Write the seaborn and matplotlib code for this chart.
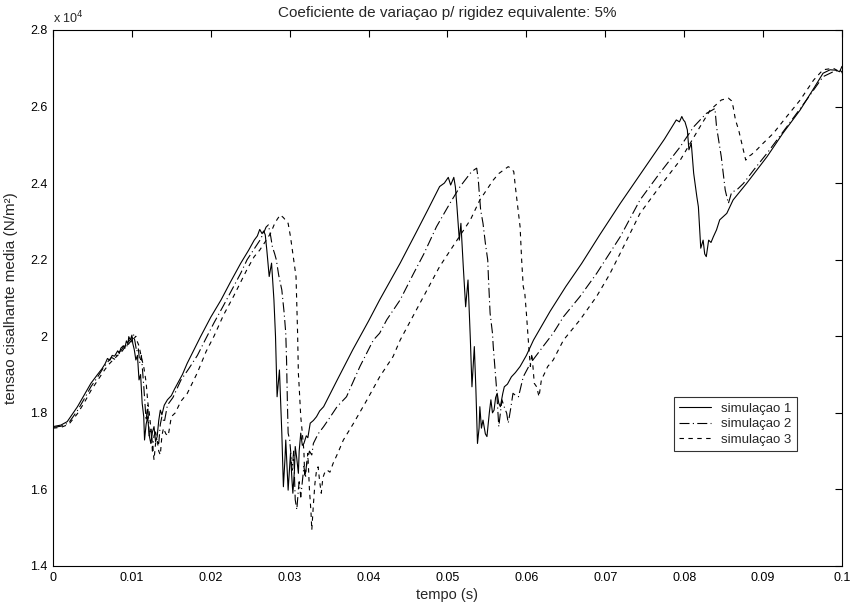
import matplotlib

matplotlib.use("Agg")
import matplotlib.pyplot as plt
import pandas as pd
import seaborn as sns
from matplotlib.ticker import FixedLocator, FuncFormatter


# tempo (s) and tensao (in units of 10^4 N/m^2)
t_sim1 = [
    0.0000, 0.0010, 0.0018, 0.0031, 0.0040, 0.0048, 0.0056, 0.0062, 0.0066, 0.0069,
    0.0072, 0.0075, 0.0078, 0.0082, 0.0084, 0.0086, 0.0089, 0.0091, 0.0093, 0.0095,
    0.0096, 0.0098, 0.0100, 0.0101, 0.0103, 0.0105, 0.0107, 0.0109, 0.0111, 0.0113,
    0.0115, 0.0116, 0.0118, 0.0120, 0.0122, 0.0124, 0.0126, 0.0128, 0.0130, 0.0132,
    0.0134, 0.0136, 0.0138, 0.0141, 0.0145, 0.0150, 0.0154, 0.0158, 0.0164, 0.0170,
    0.0178, 0.0187, 0.0200, 0.0213, 0.0225, 0.0238, 0.0248, 0.0255, 0.0259, 0.0262,
    0.0265, 0.0267, 0.0269, 0.0271, 0.0274, 0.0277, 0.0280, 0.0282, 0.0284, 0.0287,
    0.0290, 0.0292, 0.0294, 0.0295, 0.0297, 0.0298, 0.0300, 0.0301, 0.0303, 0.0304,
    0.0306, 0.0307, 0.0309, 0.0311, 0.0312, 0.0314, 0.0316, 0.0318, 0.0321, 0.0323,
    0.0326, 0.0330, 0.0334, 0.0338, 0.0343, 0.0360, 0.0380, 0.0400, 0.0414, 0.0440,
    0.0460, 0.0475, 0.0490, 0.0496, 0.0501, 0.0504, 0.0506, 0.0508, 0.0510, 0.0512,
    0.0515, 0.0517, 0.0520, 0.0523, 0.0526, 0.0529, 0.0531, 0.0534, 0.0536, 0.0538,
    0.0540, 0.0541, 0.0543, 0.0545, 0.0548, 0.0550, 0.0553, 0.0555, 0.0557, 0.0559,
    0.0561, 0.0563, 0.0565, 0.0567, 0.0570, 0.0572, 0.0576, 0.0581, 0.0586, 0.0592,
    0.0600, 0.0609, 0.0630, 0.0650, 0.0670, 0.0693, 0.0719, 0.0740, 0.0760, 0.0775,
    0.0784, 0.0790, 0.0794, 0.0797, 0.0799, 0.0801, 0.0804, 0.0806, 0.0809, 0.0812,
    0.0816, 0.0818, 0.0821, 0.0824, 0.0826, 0.0828, 0.0831, 0.0834, 0.0837, 0.0841,
    0.0845, 0.0854, 0.0862, 0.0879, 0.0905, 0.0925, 0.0947, 0.0965, 0.0976, 0.0985,
    0.0992, 0.0997, 0.1000,
]
tau_sim1 = [
    1.764, 1.768, 1.777, 1.816, 1.848, 1.877, 1.899, 1.915, 1.928, 1.942,
    1.937, 1.950, 1.948, 1.962, 1.955, 1.969, 1.975, 1.968, 1.988, 1.980,
    1.999, 1.990, 2.003, 1.982, 1.965, 1.938, 1.950, 1.886, 1.900, 1.825,
    1.790, 1.729, 1.770, 1.790, 1.740, 1.720, 1.750, 1.764, 1.725, 1.738,
    1.780, 1.807, 1.795, 1.820, 1.834, 1.845, 1.862, 1.877, 1.900, 1.929,
    1.962, 1.999, 2.050, 2.095, 2.142, 2.191, 2.225, 2.251, 2.262, 2.279,
    2.268, 2.275, 2.265, 2.225, 2.156, 2.191, 2.095, 2.000, 1.842, 1.912,
    1.747, 1.607, 1.680, 1.729, 1.640, 1.598, 1.660, 1.694, 1.620, 1.590,
    1.650, 1.712, 1.680, 1.642, 1.700, 1.747, 1.715, 1.720, 1.740, 1.735,
    1.773, 1.780, 1.790, 1.805, 1.816, 1.885, 1.965, 2.040, 2.095, 2.191,
    2.270, 2.330, 2.391, 2.400, 2.415, 2.395, 2.405, 2.415, 2.390, 2.338,
    2.251, 2.295, 2.182, 2.077, 2.147, 1.990, 1.868, 1.973, 1.860, 1.720,
    1.760, 1.816, 1.760, 1.781, 1.745, 1.738, 1.800, 1.834, 1.800, 1.807,
    1.840, 1.851, 1.825, 1.816, 1.850, 1.868, 1.875, 1.894, 1.905, 1.921,
    1.950, 1.990, 2.065, 2.130, 2.190, 2.265, 2.347, 2.410, 2.470, 2.515,
    2.545, 2.565, 2.560, 2.574, 2.565, 2.560, 2.539, 2.487, 2.504, 2.426,
    2.365, 2.338, 2.230, 2.251, 2.215, 2.208, 2.251, 2.245, 2.260, 2.278,
    2.304, 2.321, 2.356, 2.399, 2.469, 2.530, 2.591, 2.650, 2.687, 2.696,
    2.695, 2.691, 2.705,
]

t_sim2 = [
    0.0000, 0.0010, 0.0020, 0.0031, 0.0040, 0.0048, 0.0056, 0.0064, 0.0069, 0.0074,
    0.0078, 0.0082, 0.0086, 0.0090, 0.0093, 0.0096, 0.0099, 0.0102, 0.0104, 0.0106,
    0.0108, 0.0110, 0.0112, 0.0115, 0.0118, 0.0120, 0.0122, 0.0124, 0.0126, 0.0128,
    0.0130, 0.0132, 0.0134, 0.0136, 0.0138, 0.0141, 0.0145, 0.0152, 0.0162, 0.0172,
    0.0183, 0.0194, 0.0204, 0.0216, 0.0229, 0.0238, 0.0246, 0.0255, 0.0262, 0.0267,
    0.0270, 0.0273, 0.0276, 0.0278, 0.0281, 0.0283, 0.0286, 0.0290, 0.0293, 0.0295,
    0.0296, 0.0297, 0.0298, 0.0300, 0.0302, 0.0303, 0.0305, 0.0307, 0.0309, 0.0311,
    0.0312, 0.0314, 0.0315, 0.0317, 0.0318, 0.0320, 0.0321, 0.0325, 0.0328, 0.0330,
    0.0336, 0.0343, 0.0350, 0.0360, 0.0372, 0.0389, 0.0406, 0.0414, 0.0423, 0.0440,
    0.0457, 0.0470, 0.0486, 0.0503, 0.0516, 0.0529, 0.0534, 0.0537, 0.0539, 0.0540,
    0.0542, 0.0545, 0.0548, 0.0551, 0.0552, 0.0554, 0.0557, 0.0558, 0.0560, 0.0562,
    0.0565, 0.0567, 0.0569, 0.0572, 0.0575, 0.0577, 0.0580, 0.0583, 0.0586, 0.0590,
    0.0596, 0.0605, 0.0621, 0.0634, 0.0647, 0.0668, 0.0689, 0.0705, 0.0719, 0.0744,
    0.0769, 0.0795, 0.0812, 0.0828, 0.0835, 0.0839, 0.0841, 0.0845, 0.0847, 0.0849,
    0.0852, 0.0854, 0.0856, 0.0860, 0.0868, 0.0875, 0.0888, 0.0905, 0.0930, 0.0955,
    0.0976, 0.0989, 0.0997, 0.1000,
]
tau_sim2 = [
    1.762, 1.765, 1.774, 1.806, 1.838, 1.868, 1.892, 1.918, 1.932, 1.945,
    1.940, 1.958, 1.962, 1.975, 1.970, 1.990, 1.985, 2.005, 1.985, 1.960,
    1.970, 1.930, 1.950, 1.870, 1.780, 1.820, 1.740, 1.760, 1.700, 1.740,
    1.750, 1.725, 1.720, 1.770, 1.790, 1.775, 1.820, 1.840, 1.885, 1.915,
    1.950, 1.995, 2.035, 2.080, 2.130, 2.165, 2.200, 2.228, 2.250, 2.270,
    2.285, 2.291, 2.260, 2.234, 2.215, 2.200, 2.160, 2.121, 2.060, 2.008,
    1.938, 1.834, 1.747, 1.729, 1.680, 1.650, 1.700, 1.573, 1.547, 1.600,
    1.620, 1.580, 1.600, 1.640, 1.660, 1.630, 1.659, 1.700, 1.690, 1.720,
    1.745, 1.764, 1.785, 1.816, 1.842, 1.921, 1.990, 2.008, 2.043, 2.095,
    2.164, 2.215, 2.286, 2.347, 2.391, 2.426, 2.435, 2.439, 2.410, 2.382,
    2.330, 2.295, 2.243, 2.199, 2.147, 2.060, 2.008, 1.973, 1.921, 1.868,
    1.764, 1.800, 1.834, 1.815, 1.799, 1.773, 1.810, 1.851, 1.846, 1.842,
    1.894, 1.929, 1.973, 2.008, 2.051, 2.104, 2.164, 2.215, 2.260, 2.356,
    2.426, 2.495, 2.547, 2.582, 2.590, 2.595, 2.547, 2.495, 2.469, 2.434,
    2.382, 2.365, 2.347, 2.375, 2.385, 2.399, 2.434, 2.478, 2.547, 2.617,
    2.678, 2.691, 2.696, 2.690,
]

t_sim3 = [
    0.0000, 0.0010, 0.0020, 0.0031, 0.0040, 0.0048, 0.0056, 0.0064, 0.0070, 0.0076,
    0.0082, 0.0088, 0.0092, 0.0096, 0.0100, 0.0103, 0.0105, 0.0107, 0.0109, 0.0112,
    0.0115, 0.0118, 0.0120, 0.0122, 0.0124, 0.0126, 0.0128, 0.0130, 0.0132, 0.0134,
    0.0136, 0.0138, 0.0140, 0.0143, 0.0146, 0.0150, 0.0155, 0.0162, 0.0170, 0.0183,
    0.0194, 0.0204, 0.0216, 0.0229, 0.0246, 0.0255, 0.0262, 0.0270, 0.0276, 0.0280,
    0.0284, 0.0288, 0.0292, 0.0296, 0.0298, 0.0301, 0.0303, 0.0305, 0.0308, 0.0309,
    0.0310, 0.0311, 0.0312, 0.0314, 0.0316, 0.0318, 0.0319, 0.0321, 0.0323, 0.0325,
    0.0327, 0.0328, 0.0330, 0.0332, 0.0334, 0.0336, 0.0338, 0.0340, 0.0342, 0.0344,
    0.0347, 0.0351, 0.0355, 0.0361, 0.0368, 0.0381, 0.0398, 0.0414, 0.0431, 0.0440,
    0.0465, 0.0490, 0.0512, 0.0529, 0.0541, 0.0558, 0.0565, 0.0571, 0.0577, 0.0581,
    0.0584, 0.0586, 0.0590, 0.0592, 0.0594, 0.0596, 0.0598, 0.0600, 0.0603, 0.0605,
    0.0607, 0.0610, 0.0613, 0.0616, 0.0619, 0.0623, 0.0627, 0.0634, 0.0647, 0.0668,
    0.0689, 0.0705, 0.0719, 0.0744, 0.0769, 0.0795, 0.0820, 0.0833, 0.0847, 0.0856,
    0.0860, 0.0862, 0.0865, 0.0869, 0.0872, 0.0875, 0.0878, 0.0881, 0.0885, 0.0892,
    0.0900, 0.0913, 0.0930, 0.0947, 0.0964, 0.0976, 0.0989, 0.0997, 0.1000,
]
tau_sim3 = [
    1.760, 1.762, 1.770, 1.798, 1.828, 1.858, 1.883, 1.908, 1.925, 1.938,
    1.950, 1.962, 1.975, 1.980, 1.992, 1.995, 2.000, 1.985, 1.975, 1.945,
    1.920, 1.880, 1.830, 1.800, 1.760, 1.720, 1.677, 1.720, 1.730, 1.700,
    1.690, 1.740, 1.760, 1.745, 1.740, 1.790, 1.800, 1.830, 1.850, 1.905,
    1.960, 2.000, 2.055, 2.105, 2.175, 2.208, 2.225, 2.250, 2.270, 2.290,
    2.305, 2.317, 2.310, 2.300, 2.295, 2.260, 2.230, 2.199, 2.156, 2.080,
    2.008, 1.903, 1.868, 1.790, 1.747, 1.700, 1.633, 1.660, 1.694, 1.600,
    1.540, 1.494, 1.560, 1.616, 1.650, 1.659, 1.620, 1.590, 1.630, 1.642,
    1.651, 1.645, 1.668, 1.695, 1.729, 1.773, 1.834, 1.894, 1.947, 1.990,
    2.086, 2.182, 2.251, 2.304, 2.356, 2.408, 2.425, 2.434, 2.443, 2.438,
    2.430, 2.391, 2.321, 2.286, 2.199, 2.130, 2.112, 2.060, 1.973, 1.921,
    1.955, 1.877, 1.868, 1.842, 1.886, 1.903, 1.921, 1.938, 1.990, 2.043,
    2.104, 2.160, 2.217, 2.321, 2.391, 2.460, 2.547, 2.591, 2.617, 2.622,
    2.615, 2.600, 2.565, 2.539, 2.513, 2.487, 2.460, 2.469, 2.474, 2.487,
    2.504, 2.530, 2.574, 2.617, 2.669, 2.696, 2.700, 2.691, 2.688,
]

series_labels = ["simulaçao 1", "simulaçao 2", "simulaçao 3"]
x_ticks = [0, 0.01, 0.02, 0.03, 0.04, 0.05, 0.06, 0.07, 0.08, 0.09, 0.1]
y_ticks = [1.4, 1.6, 1.8, 2.0, 2.2, 2.4, 2.6, 2.8]

sns.set_style("white")
plt.rcParams["font.family"] = ["Liberation Sans", "DejaVu Sans"]

fig = plt.figure(figsize=(8.51, 6.03), dpi=100)
ax = fig.add_axes([0.0623, 0.0614, 0.9271, 0.8889])

line_styles = ["-", (0, (9, 3, 1, 3)), (0, (4, 4))]
for (t, tau), label, ls in zip(
    [(t_sim1, tau_sim1), (t_sim2, tau_sim2), (t_sim3, tau_sim3)], series_labels, line_styles
):
    frame = pd.DataFrame({"tempo": t, "tensao": tau})
    sns.lineplot(
        data=frame, x="tempo", y="tensao", ax=ax, color="black", linewidth=0.8,
        linestyle=ls, label=label, sort=False, estimator=None,
    )

ax.set_xlim(0, 0.1)
ax.set_ylim(1.4, 2.8)
ax.xaxis.set_major_locator(FixedLocator(x_ticks))
ax.yaxis.set_major_locator(FixedLocator(y_ticks))
ax.xaxis.set_major_formatter(FuncFormatter(lambda v, p: f"{v:g}"))
ax.yaxis.set_major_formatter(FuncFormatter(lambda v, p: f"{v:g}"))
ax.tick_params(direction="in", length=5, width=0.8, top=True, right=True,
               labelsize=9, colors="black", pad=4)
for side in ax.spines.values():
    side.set_color("black")
    side.set_linewidth(0.8)

ax.set_xlabel("tempo (s)", fontsize=10.5, labelpad=3)
ax.set_ylabel("tensao cisalhante media (N/m²)", fontsize=11, labelpad=9)
ax.set_title("Coeficiente de variaçao p/ rigidez equivalente: 5%", fontsize=11, pad=9)
ax.text(0.0, 1.006, "x 10$^4$", transform=ax.transAxes, fontsize=9, va="bottom", ha="left")

leg = ax.legend(loc="upper left", bbox_to_anchor=(0.787, 0.315), frameon=True,
                fancybox=False, edgecolor="black", fontsize=9.5, handlelength=2.4,
                borderpad=0.4, labelspacing=0.25, borderaxespad=0)
leg.get_frame().set_linewidth(0.8)

fig.savefig("out.png", dpi=100, facecolor="white")
